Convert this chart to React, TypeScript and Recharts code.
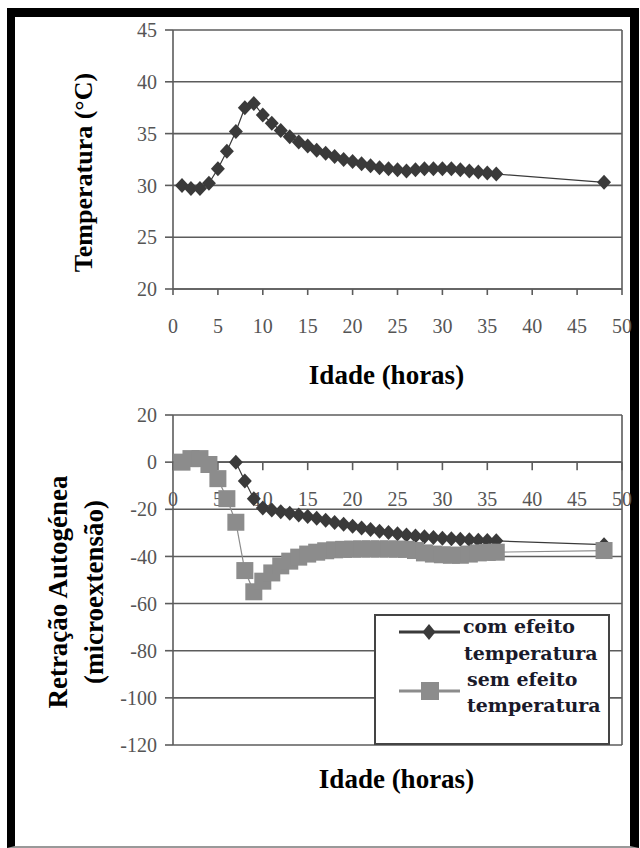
import React from 'react';
import {
  LineChart,
  Line,
  XAxis,
  YAxis,
  CartesianGrid,
  ReferenceLine,
  ReferenceDot,
  Legend,
} from 'recharts';

// idade (horas) e temperatura do concreto
const horasTemperatura = [1, 2, 3, 4, 5, 6, 7, 8, 9, 10, 11, 12, 13, 14, 15, 16, 17, 18, 19, 20, 21, 22, 23, 24, 25, 26, 27, 28, 29, 30, 31, 32, 33, 34, 35, 36, 48];
const temperatura = [30.0, 29.7, 29.7, 30.2, 31.6, 33.3, 35.2, 37.5, 37.9, 36.8, 36.0, 35.3, 34.7, 34.2, 33.8, 33.4, 33.1, 32.8, 32.5, 32.3, 32.1, 31.9, 31.7, 31.6, 31.5, 31.4, 31.5, 31.6, 31.6, 31.6, 31.6, 31.5, 31.4, 31.3, 31.2, 31.1, 30.3];

// retração autógena com efeito da temperatura
const horasCom = [7, 8, 9, 10, 11, 12, 13, 14, 15, 16, 17, 18, 19, 20, 21, 22, 23, 24, 25, 26, 27, 28, 29, 30, 31, 32, 33, 34, 35, 36, 48];
const retracaoCom = [0, -8, -15.5, -19.5, -20.3, -21, -21.7, -22.4, -23.1, -23.8, -24.7, -25.6, -26.4, -27.2, -27.9, -28.6, -29.3, -29.9, -30.4, -30.9, -31.3, -31.7, -32, -32.3, -32.5, -32.7, -32.9, -33.1, -33.2, -33.4, -35];

// retração autógena sem efeito da temperatura
const horasSem = [1, 2, 3, 4, 5, 6, 7, 8, 9, 10, 11, 12, 13, 14, 15, 16, 17, 18, 19, 20, 21, 22, 23, 24, 25, 26, 27, 28, 29, 30, 31, 32, 33, 34, 35, 36, 48];
const retracaoSem = [0, 1.5, 1.5, -1, -7, -15.5, -25.5, -46, -55, -50.5, -47, -44, -42, -40.3, -39, -38.2, -37.6, -37.2, -37, -36.9, -36.8, -36.8, -36.8, -36.8, -36.9, -37, -37.5, -38.5, -39, -39.3, -39.5, -39.5, -39, -38.5, -38.3, -38.2, -37.5];

const horasTicks = [0, 5, 10, 15, 20, 25, 30, 35, 40, 45, 50];
const temperaturaTicks = [20, 25, 30, 35, 40, 45];
const retracaoTicks = [-120, -100, -80, -60, -40, -20, 0, 20];

const nomeCom = 'com efeito temperatura';
const nomeSem = 'sem efeito temperatura';

const dadosTemperatura = horasTemperatura.map((h, i) => ({ h, v: temperatura[i] }));
const dadosCom = horasCom.map((h, i) => ({ h, v: retracaoCom[i] }));
const dadosSem = horasSem.map((h, i) => ({ h, v: retracaoSem[i] }));

const ESCURO = '#3a3a3a';
const CINZA = '#8c8c8c';
const GRADE = '#5c5c5c';
const SERIF = 'Liberation Serif';
const tickStyle = { fontFamily: SERIF, fontSize: 20, fill: '#555' };

const Diamond = (props: any) => {
  const { cx, cy, index } = props;
  if (cx == null || cy == null) return <g key={`d-${index}`} />;
  return (
    <polygon
      key={`d-${index}`}
      points={`${cx},${cy - 7.5} ${cx + 7},${cy} ${cx},${cy + 7.5} ${cx - 7},${cy}`}
      fill={ESCURO}
    />
  );
};

const Square = (props: any) => {
  const { cx, cy, index } = props;
  if (cx == null || cy == null) return <g key={`s-${index}`} />;
  return <rect key={`s-${index}`} x={cx - 8.5} y={cy - 8.5} width={17} height={17} fill={CINZA} />;
};

const tituloX = (props: any) => {
  const vb = props.viewBox;
  return (
    <text
      x={vb.x + vb.width / 2 + (props.shift || 0)}
      y={vb.y + props.base}
      textAnchor="middle"
      style={{ fontFamily: SERIF, fontWeight: 'bold', fontSize: 27 }}
      fill="#000"
    >
      Idade (horas)
    </text>
  );
};

const TickZero = ({ cx, cy, rotulo }: any) => (
  <g>
    <line x1={cx} x2={cx} y1={cy} y2={cy + 8} stroke={GRADE} strokeWidth={1.6} />
    <text x={cx} y={cy + 44} textAnchor="middle" style={{ fontFamily: SERIF, fontSize: 20 }} fill="#555">
      {rotulo}
    </text>
  </g>
);

const LegendaCaixa = (props: any) => {
  const payload = props.payload || [];
  const linhas = payload.map((p: any) => {
    const nome = String(p.value);
    const corte = nome.lastIndexOf(' ');
    return [nome.slice(0, corte), nome.slice(corte + 1)];
  });
  const txt = {
    style: { fontFamily: 'DejaVu Serif', fontWeight: 'bold' as const, fontSize: 19 },
    fill: '#1a1a2a',
  };
  return (
    <svg width={236} height={131} style={{ display: 'block' }}>
      <rect x={1} y={1} width={234} height={129} fill="#fff" stroke="#444" strokeWidth={2} />
      <line x1={25} x2={86} y1={18} y2={18} stroke={ESCURO} strokeWidth={3} />
      <polygon points="55,10 61.5,18 55,26 48.5,18" fill={ESCURO} />
      <line x1={25} x2={86} y1={77} y2={77} stroke={CINZA} strokeWidth={3} />
      <rect x={47} y={68} width={18} height={18} fill={CINZA} />
      {linhas[0] && (
        <>
          <text x={89} y={19} {...txt}>{linhas[0][0]}</text>
          <text x={90} y={46} {...txt}>{linhas[0][1]}</text>
        </>
      )}
      {linhas[1] && (
        <>
          <text x={93} y={72} {...txt}>{linhas[1][0]}</text>
          <text x={93} y={98} {...txt}>{linhas[1][1]}</text>
        </>
      )}
    </svg>
  );
};

function GraficoTemperatura() {
  return (
    <LineChart width={640} height={400} margin={{ top: 30, right: 18, left: 113, bottom: 0 }}>
      <CartesianGrid vertical={false} stroke={GRADE} strokeWidth={1.6} />
      <XAxis
        type="number"
        dataKey="h"
        domain={[0, 50]}
        ticks={horasTicks}
        allowDataOverflow
        height={111}
        tick={tickStyle}
        tickSize={6}
        tickMargin={24}
        axisLine={{ stroke: GRADE, strokeWidth: 1.6 }}
        tickLine={{ stroke: GRADE, strokeWidth: 1.6 }}
        label={{ content: (p: any) => tituloX({ ...p, shift: -11, base: 95 }) }}
      />
      <YAxis
        type="number"
        domain={[20, 45]}
        ticks={temperaturaTicks}
        width={60}
        tick={tickStyle}
        tickSize={8}
        tickMargin={8}
        axisLine={{ stroke: GRADE, strokeWidth: 1.6 }}
        tickLine={{ stroke: GRADE, strokeWidth: 1.6 }}
        label={{
          content: (p: any) => {
            const vb = p.viewBox;
            const x = vb.x - 21;
            const y = vb.y + vb.height / 2 + 13;
            return (
              <text
                x={x}
                y={y}
                transform={`rotate(-90, ${x}, ${y})`}
                textAnchor="middle"
                style={{ fontFamily: SERIF, fontWeight: 'bold', fontSize: 26 }}
                fill="#000"
              >
                Temperatura (°C)
              </text>
            );
          },
        }}
      />
      <ReferenceLine x={50} stroke={GRADE} strokeWidth={1.6} />
      <Line
        data={dadosTemperatura}
        dataKey="v"
        stroke={ESCURO}
        strokeWidth={1.2}
        dot={Diamond}
        activeDot={false}
        isAnimationActive={false}
      />
    </LineChart>
  );
}

function GraficoRetracao() {
  return (
    <LineChart width={640} height={448} margin={{ top: 15, right: 18, left: 113, bottom: 0 }}>
      <CartesianGrid vertical={false} stroke={GRADE} strokeWidth={1.6} />
      <XAxis
        type="number"
        dataKey="h"
        domain={[0, 50]}
        ticks={horasTicks}
        allowDataOverflow
        height={103}
        tick={false}
        axisLine={false}
        tickLine={false}
        label={{ content: (p: any) => tituloX({ ...p, shift: -1, base: 43 }) }}
      />
      <YAxis
        type="number"
        domain={[-120, 20]}
        ticks={retracaoTicks}
        width={60}
        tick={tickStyle}
        tickSize={8}
        tickMargin={8}
        axisLine={{ stroke: GRADE, strokeWidth: 1.6 }}
        tickLine={{ stroke: GRADE, strokeWidth: 1.6 }}
        label={{
          content: (p: any) => {
            const vb = p.viewBox;
            const y = vb.y + vb.height / 2 + 12;
            const x1 = vb.x - 46;
            const x2 = vb.x - 10;
            return (
              <g style={{ fontFamily: SERIF, fontWeight: 'bold', fontSize: 27 }} fill="#000">
                <text x={x1} y={y} transform={`rotate(-90, ${x1}, ${y})`} textAnchor="middle">
                  Retração Autogénea
                </text>
                <text x={x2} y={y} transform={`rotate(-90, ${x2}, ${y})`} textAnchor="middle">
                  (microextensão)
                </text>
              </g>
            );
          },
        }}
      />
      <ReferenceLine y={0} stroke={GRADE} strokeWidth={1.6} />
      <ReferenceLine x={50} stroke={GRADE} strokeWidth={1.6} />
      {horasTicks.map((t) => (
        <ReferenceDot
          key={`t-${t}`}
          x={t}
          y={0}
          r={0}
          shape={(p: any) => <TickZero {...p} rotulo={String(t)} />}
        />
      ))}
      <Line
        name={nomeCom}
        data={dadosCom}
        dataKey="v"
        stroke={ESCURO}
        strokeWidth={1.2}
        dot={Diamond}
        activeDot={false}
        isAnimationActive={false}
      />
      <Line
        name={nomeSem}
        data={dadosSem}
        dataKey="v"
        stroke={CINZA}
        strokeWidth={1.2}
        dot={Square}
        activeDot={false}
        isAnimationActive={false}
      />
      <Legend
        layout="vertical"
        align="center"
        verticalAlign="middle"
        content={LegendaCaixa}
        wrapperStyle={{ left: 374, top: 214, width: 236, height: 131 }}
      />
    </LineChart>
  );
}

export default function App() {
  return (
    <div style={{ position: 'absolute', left: 0, top: 0, width: 640, height: 848, background: '#fff', overflow: 'hidden' }}>
      <div
        style={{
          position: 'absolute',
          left: 7,
          top: 8,
          width: 632,
          height: 840,
          boxSizing: 'border-box',
          borderTop: '9px solid #000',
          borderLeft: '8px solid #000',
          borderRight: '9px solid #000',
          borderBottom: '2px solid #999',
        }}
      />
      <div style={{ position: 'absolute', left: 0, top: 0 }}>
        <GraficoTemperatura />
      </div>
      <div style={{ position: 'absolute', left: 0, top: 400 }}>
        <GraficoRetracao />
      </div>
    </div>
  );
}
